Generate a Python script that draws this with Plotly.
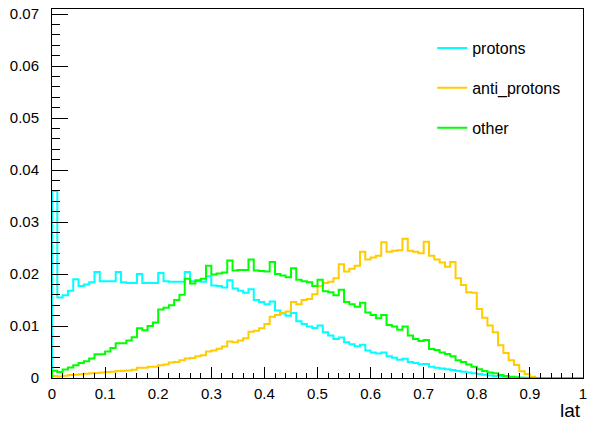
import numpy as np
import plotly.graph_objects as go

# Normalised "lat" distributions, 100 bins over [0, 1]
lat_min, lat_max, n_bins = 0.0, 1.0, 100

protons = [
    0.0360, 0.0155, 0.0159, 0.0168, 0.0190, 0.0177, 0.0180, 0.0184, 0.0204, 0.0186,
    0.0186, 0.0186, 0.0204, 0.0184, 0.0183, 0.0183, 0.0200, 0.0183, 0.0183, 0.0183,
    0.0202, 0.0186, 0.0185, 0.0185, 0.0185, 0.0204, 0.0186, 0.0186, 0.0185, 0.0196,
    0.0178, 0.0177, 0.0174, 0.0188, 0.0172, 0.0168, 0.0164, 0.0171, 0.0150, 0.0146,
    0.0142, 0.0147, 0.0130, 0.0124, 0.0120, 0.0125, 0.0109, 0.0104, 0.0099, 0.0096,
    0.0101, 0.0088, 0.0082, 0.0075, 0.0078, 0.0069, 0.0065, 0.0061, 0.0064, 0.0053,
    0.0049, 0.0047, 0.0049, 0.0042, 0.0039, 0.0035, 0.0037, 0.0031, 0.0029, 0.00266,
    0.0027, 0.00215, 0.00196, 0.00184, 0.0017, 0.00152, 0.00133, 0.0012, 0.00108, 0.00089,
    0.00076, 0.00063, 0.0005, 0.00038, 0.0003, 0.00022, 0.00015, 0.0001, 0.00006, 0.00003,
    0, 0, 0, 0, 0, 0, 0, 0, 0, 0,
]

anti_protons = [
    0.00038, 0.0003, 0.00044, 0.00057, 0.00063, 0.0007, 0.00082, 0.00089, 0.00095, 0.00108,
    0.00114, 0.0012, 0.00133, 0.00139, 0.00146, 0.00158, 0.00196, 0.00196, 0.00215, 0.00215,
    0.00247, 0.0026, 0.00298, 0.0031, 0.0034, 0.00373, 0.00386, 0.00418, 0.00437, 0.00512,
    0.0053, 0.00563, 0.00607, 0.0070, 0.0069, 0.0072, 0.00766, 0.0089, 0.0091, 0.00955,
    0.0104, 0.0118, 0.0121, 0.0125, 0.0128, 0.0146, 0.0142, 0.0150, 0.0152, 0.0161,
    0.01765, 0.0183, 0.0185, 0.0192, 0.0219, 0.0205, 0.0210, 0.0216, 0.0243, 0.0228,
    0.0232, 0.0235, 0.0261, 0.0243, 0.0245, 0.0246, 0.0268, 0.0245, 0.0243, 0.0240,
    0.0262, 0.0235, 0.0228, 0.0222, 0.0214, 0.0223, 0.0192, 0.0179, 0.0165, 0.0164,
    0.0133, 0.0116, 0.0101, 0.0088, 0.0063, 0.0048, 0.0034, 0.0025, 0.0013, 0.00076,
    0.00025, 0, 0, 0, 0, 0, 0, 0, 0, 0,
]

other = [
    0.00139, 0.00114, 0.00165, 0.00203, 0.00247, 0.0029, 0.00323, 0.00373, 0.00456, 0.00456,
    0.00512, 0.00576, 0.0067, 0.0067, 0.00721, 0.00784, 0.00955, 0.0092, 0.0100, 0.0107,
    0.0132, 0.0135, 0.0140, 0.0150, 0.0160, 0.0191, 0.0182, 0.0188, 0.0191, 0.0216,
    0.0199, 0.0201, 0.0203, 0.0226, 0.0207, 0.0208, 0.0208, 0.0228, 0.0207, 0.0206,
    0.0205, 0.0223, 0.0200, 0.0197, 0.0194, 0.0211, 0.0189, 0.0186, 0.0184, 0.0177,
    0.0189, 0.0167, 0.0165, 0.0159, 0.0170, 0.0146, 0.0142, 0.0137, 0.0145, 0.0126,
    0.0121, 0.0115, 0.0121, 0.0102, 0.0099, 0.0093, 0.0099, 0.0082, 0.0075, 0.0071,
    0.0073, 0.0056, 0.0054, 0.0049, 0.0046, 0.0042, 0.0034, 0.0031, 0.0026, 0.00215,
    0.0017, 0.00133, 0.00108, 0.0009, 0.00057, 0.00038, 0.00025, 0.00013, 0.00005, 0,
    0, 0, 0, 0, 0, 0, 0, 0, 0, 0,
]

series = [
    ("protons", protons, "#00ffff"),
    ("anti_protons", anti_protons, "#ffcc00"),
    ("other", other, "#00ff00"),
]

x_ticks = [0, 0.1, 0.2, 0.3, 0.4, 0.5, 0.6, 0.7, 0.8, 0.9, 1]
x_tick_text = ["0", "0.1", "0.2", "0.3", "0.4", "0.5", "0.6", "0.7", "0.8", "0.9", "1"]
y_ticks = [0, 0.01, 0.02, 0.03, 0.04, 0.05, 0.06, 0.07]
y_tick_text = ["0", "0.01", "0.02", "0.03", "0.04", "0.05", "0.06", "0.07"]
y_max = 0.0710

FONT = "Liberation Sans, Arial, Helvetica, sans-serif"

edges = np.linspace(lat_min, lat_max, n_bins + 1)

fig = go.Figure()
for i, (name, vals, color) in enumerate(series):
    vals = np.asarray(vals, dtype=float)
    # step outline: rise from the baseline at the first edge, hold the last bin to the last edge
    xs = np.concatenate([[edges[0]], edges])
    ys = np.concatenate([[0.0], vals, [vals[-1]]])
    fig.add_trace(go.Scatter(
        x=xs, y=ys, mode="lines", name=name,
        line=dict(color=color, width=2, shape="hv"),
        legendgroup=f"g{i}",
        cliponaxis=True,
    ))

axis_common = dict(
    showline=True, mirror=True, linecolor="black", linewidth=1,
    showgrid=False, zeroline=False, ticks="inside", tickcolor="black",
    tickfont=dict(family=FONT, size=15, color="black"),
    ticklabeloverflow="allow",
)

fig.update_xaxes(
    range=[lat_min, lat_max * 1.000001], tickvals=x_ticks, ticktext=x_tick_text,
    ticklen=11, ticklabelstandoff=2,
    minor=dict(dtick=0.02, ticklen=5, ticks="inside", tickcolor="black"),
    **axis_common,
)
fig.update_yaxes(
    range=[0, y_max], tickvals=y_ticks, ticktext=y_tick_text,
    ticklen=16, ticklabelstandoff=9,
    minor=dict(dtick=0.002, ticklen=8, ticks="inside", tickcolor="black"),
    **axis_common,
)

fig.add_annotation(
    text="lat", xref="paper", yref="paper", x=1.0, y=-0.055,
    xanchor="right", yanchor="top", showarrow=False,
    font=dict(family=FONT, size=19, color="black"),
)

fig.update_layout(
    width=592, height=427,
    margin=dict(l=52, r=5, t=8, b=49),
    paper_bgcolor="white", plot_bgcolor="white",
    showlegend=True,
    legend=dict(
        x=0.716, y=0.94, xanchor="left", yanchor="top",
        bgcolor="rgba(0,0,0,0)", borderwidth=0,
        font=dict(family=FONT, size=16, color="black"),
        itemwidth=30, tracegroupgap=16,
    ),
)

fig.write_html("out.html")
